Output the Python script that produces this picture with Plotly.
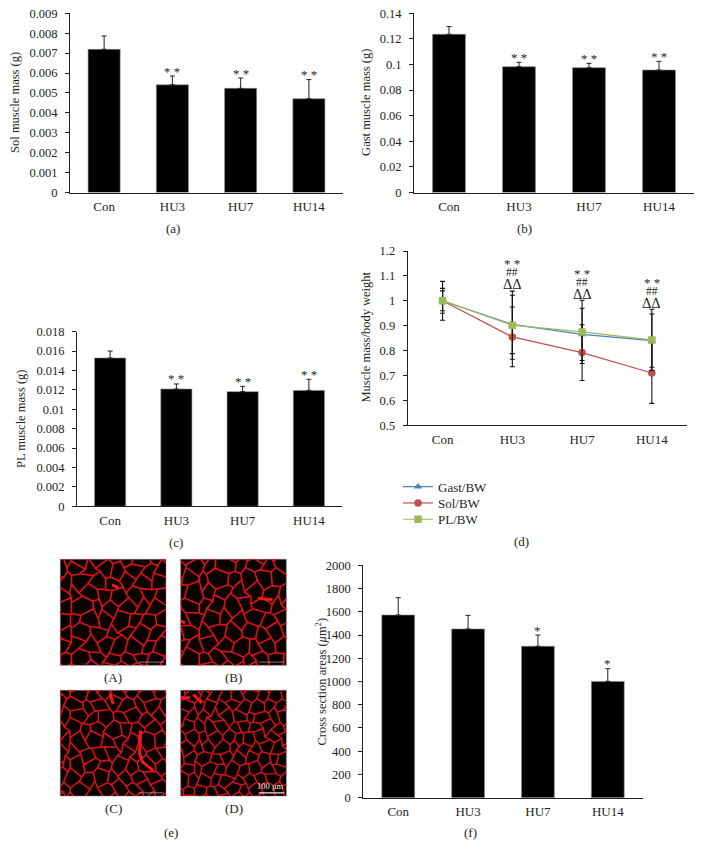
import plotly.graph_objects as go

W, H = 702, 859
FONT = "Liberation Serif"
INK = "#231f20"

categories = ["Con", "HU3", "HU7", "HU14"]

sol_mass = [0.00719, 0.00541, 0.00523, 0.00471]
sol_err = [0.00067, 0.00044, 0.00052, 0.00096]
sol_ticks = [0, 0.001, 0.002, 0.003, 0.004, 0.005, 0.006, 0.007, 0.008, 0.009]
sol_ticklabels = ["0", "0.001", "0.002", "0.003", "0.004", "0.005", "0.006", "0.007", "0.008", "0.009"]

gast_mass = [0.1236, 0.0983, 0.0975, 0.0957]
gast_err = [0.0060, 0.0034, 0.0034, 0.0068]
gast_ticks = [0, 0.02, 0.04, 0.06, 0.08, 0.1, 0.12, 0.14]
gast_ticklabels = ["0", "0.02", "0.04", "0.06", "0.08", "0.1", "0.12", "0.14"]

pl_mass = [0.01529, 0.01209, 0.01182, 0.01195]
pl_err = [0.00072, 0.00052, 0.00055, 0.00114]
pl_ticks = [0, 0.002, 0.004, 0.006, 0.008, 0.01, 0.012, 0.014, 0.016, 0.018]
pl_ticklabels = ["0", "0.002", "0.004", "0.006", "0.008", "0.01", "0.012", "0.014", "0.016", "0.018"]

area = [1572, 1452, 1303, 1001]
area_err = [149, 117, 97, 109]
area_ticks = [0, 200, 400, 600, 800, 1000, 1200, 1400, 1600, 1800, 2000]

gast_bw = [1.0, 0.905, 0.865, 0.84]
gast_bw_err = [0.05, 0.117, 0.105, 0.107]
sol_bw = [1.0, 0.855, 0.792, 0.71]
sol_bw_err = [0.078, 0.12, 0.112, 0.122]
pl_bw = [1.0, 0.902, 0.875, 0.843]
pl_bw_err = [0.04, 0.137, 0.127, 0.123]
ratio_ticks = [0.5, 0.6, 0.7, 0.8, 0.9, 1.0, 1.1, 1.2]
ratio_ticklabels = ["0.5", "0.6", "0.7", "0.8", "0.9", "1", "1.1", "1.2"]

mark_cats = ["HU3", "HU7", "HU14"]
mark_star_y = [1.157, 1.117, 1.082]
mark_hash_y = [1.117, 1.076, 1.039]
mark_delta_y = [1.067, 1.027, 0.990]

# Hand-set vertex offsets for the fibre network in the micrographs
jit_x = [2, -3, 1, 4, -2, -4, 3, 0, -1, 3, -4, 2, 4, -3, 1, -2, 3, -1, -4, 2, 0, 4, -2]
jit_y = [-2, 3, 1, -3, 2, 4, -1, -4, 2, 0, 3, -2, 1, 4, -3, 2, -1, 3, -4, 1, -2, 2, 0, -3, 3]


def X(p):
    return p / W


def Y(p):
    return 1 - p / H


fig = go.Figure()
layout = dict(
    width=W, height=H, margin=dict(l=0, r=0, t=0, b=0), autosize=False,
    paper_bgcolor="white", plot_bgcolor="white", showlegend=True,
    font=dict(family=FONT, size=13, color=INK), bargap=0.53,
)
ann = []


def text(x, y, s, size=13, angle=0):
    ann.append(dict(xref="paper", yref="paper", x=X(x), y=Y(y), text=s, showarrow=False,
                    xanchor="center", yanchor="middle", textangle=angle,
                    font=dict(family=FONT, size=size, color=INK)))


def axes(n, box, yr, ticks, labels=None):
    suffix = "" if n == 1 else str(n)
    layout["xaxis" + suffix] = dict(
        domain=[X(box[0]), X(box[1])], anchor="y" + suffix, type="category", automargin=False,
        categoryorder="array", categoryarray=categories, range=[-0.5, 3.5],
        showgrid=False, showline=True, linecolor=INK, linewidth=1, ticks="", zeroline=False,
        tickfont=dict(family=FONT, size=13, color=INK), ticklabelstandoff=2,
    )
    layout["yaxis" + suffix] = dict(
        domain=[Y(box[3]), Y(box[2])], anchor="x" + suffix, range=yr, automargin=False,
        tickmode="array", tickvals=ticks, ticktext=labels if labels else [str(t) for t in ticks],
        showgrid=False, showline=True, linecolor=INK, linewidth=1, zeroline=False,
        ticks="outside", ticklen=4, tickcolor=INK, tickwidth=1,
        tickfont=dict(family=FONT, size=12.5, color=INK), ticklabelstandoff=5,
    )


def bars(n, values, err, box, yr, ticks, labels, ytitle, tx, caption, stars):
    suffix = "" if n == 1 else str(n)
    axes(n, box, yr, ticks, labels)
    fig.add_trace(go.Bar(
        x=categories, y=values, xaxis="x" + suffix, yaxis="y" + suffix, showlegend=False,
        marker=dict(color="black", line=dict(color="#8a8a8a", width=0.6)),
        error_y=dict(type="data", symmetric=False, array=err, arrayminus=[0, 0, 0, 0],
                     color=INK, thickness=1, width=2.5),
    ))
    text(tx, (box[2] + box[3]) / 2, ytitle, 12.5, -90)
    text(caption[0], caption[1], caption[2], 13)
    for i, c in enumerate(categories):
        if stars[i]:
            ann.append(dict(xref="x" + suffix, yref="y" + suffix, x=c, y=values[i] + err[i],
                            text=stars[i], showarrow=False, yanchor="middle", yshift=5,
                            font=dict(family=FONT, size=13, color=INK)))


s2 = ["", "* *", "* *", "* *"]
bars(1, sol_mass, sol_err, (70, 343, 13.3, 192.5), [0, 0.009], sol_ticks, sol_ticklabels,
     "Sol muscle mass (g)", 15, (173, 228, "(a)"), s2)
bars(2, gast_mass, gast_err, (414, 694, 13.3, 192.5), [0, 0.14], gast_ticks, gast_ticklabels,
     "Gast muscle mass (g)", 366, (524, 228, "(b)"), s2)
bars(3, pl_mass, pl_err, (77, 342, 331.7, 506.3), [0, 0.018], pl_ticks, pl_ticklabels,
     "PL muscle mass (g)", 21, (176, 542, "(c)"), s2)
bars(4, area, area_err, (363.3, 642.7, 565.3, 797.7), [0, 2000], area_ticks, None,
     "Cross section areas (<i>μ</i>m<sup>2</sup>)", 320, (470, 832.7, "(f)"),
     ["", "", "*", "*"])

# Panel (d)
axes(5, (407.7, 686.7, 251, 425.3), [0.5, 1.2], ratio_ticks, ratio_ticklabels)
series = [
    ("Gast/BW", gast_bw, gast_bw_err, "#4f81bd", "triangle-up", "legend", 486.7),
    ("Sol/BW", sol_bw, sol_bw_err, "#c0504d", "circle", "legend2", 503),
    ("PL/BW", pl_bw, pl_bw_err, "#9bbb59", "square", "legend3", 519.3),
]
for name, v, e, col, sym, lg, ly in series:
    fig.add_trace(go.Scatter(
        x=categories, y=v, name=name, xaxis="x5", yaxis="y5", mode="lines+markers", legend=lg,
        line=dict(color=col, width=1.2), marker=dict(color=col, symbol=sym, size=7.5),
        error_y=dict(type="data", array=e, color="#111111", thickness=1.1, width=2.5),
    ))
    layout[lg] = dict(
        x=X(398), y=Y(ly), xanchor="left", yanchor="middle", bgcolor="rgba(0,0,0,0)",
        font=dict(family=FONT, size=13, color=INK), itemwidth=30,
    )
text(365, 337.5, "Muscle mass/body weight", 12.5, -90)
text(521, 541.7, "(d)", 13)
for i, c in enumerate(mark_cats):
    for yy, s, sz, sh in ((mark_star_y[i], "* *", 13, -2), (mark_hash_y[i], "##", 11.5, 0),
                          (mark_delta_y[i], "ΔΔ", 14.5, 0)):
        ann.append(dict(xref="x5", yref="y5", x=c, y=yy, text=s, showarrow=False, yshift=sh,
                        yanchor="middle", font=dict(family=FONT, size=sz, color=INK)))

# Panel (e): micrographs
panels = [
    ("(A)", (60.3, 166, 559.3, 665.3), 14, 12, 0, 1.6),
    ("(B)", (180.7, 286.3, 559.3, 665.3), 14, 12.5, 7, 1.6),
    ("(C)", (60.3, 166, 690.3, 796), 12.5, 11.5, 13, 1.5),
    ("(D)", (180.7, 286.3, 690.3, 796), 11, 10, 4, 1.4),
]
blobs = {
    0: ([49, 55], [76, 73]),
    1: ([73, 87, None, 0, 4], [63, 62, None, 42, 40]),
    2: ([47, 50, None, 76, 75, 78, 88], [97, 87, None, 62, 40, 32, 24]),
    3: ([0, 9, None, 12, 20], [93, 93, None, 96, 88]),
}
for k, (lab, box, cw, rh, seed, lw) in enumerate(panels):
    n = 6 + k
    suf = str(n)
    layout["xaxis" + suf] = dict(domain=[X(box[0]), X(box[1])], anchor="y" + suf, range=[0, 100],
                                 visible=False, fixedrange=True, automargin=False)
    layout["yaxis" + suf] = dict(domain=[Y(box[3]), Y(box[2])], anchor="x" + suf, range=[0, 100],
                                 visible=False, fixedrange=True, automargin=False)
    layout["shapes"] = layout.get("shapes", []) + [dict(
        type="rect", xref="paper", yref="paper", layer="below",
        x0=X(box[0]), x1=X(box[1]), y0=Y(box[3]), y1=Y(box[2]),
        fillcolor="#0a0000", line=dict(color="#777777", width=0.5))]
    ncol = int(200 / cw) + 6
    nrow = int(100 / rh) + 4
    pts = {}
    for r in range(nrow):
        for c in range(ncol):
            jx = jit_x[(c * 7 + r * 11 + c * r * 3 + seed) % len(jit_x)]
            jy = jit_y[(c * 5 + r * 13 + c * r * 2 + seed) % len(jit_y)]
            zig = rh * 0.2 if (c + r) % 2 else -rh * 0.2
            pts[(r, c)] = (c * cw / 2 - cw + jx * cw / 16, r * rh - rh + zig + jy * rh / 16)
    xs, ys = [], []
    for r in range(nrow):
        for c in range(ncol):
            xs.append(pts[(r, c)][0])
            ys.append(pts[(r, c)][1])
        xs.append(None)
        ys.append(None)
        if r < nrow - 1:
            for c in range(ncol):
                if (c + r) % 2 == 1:
                    xs += [pts[(r, c)][0], pts[(r + 1, c)][0], None]
                    ys += [pts[(r, c)][1], pts[(r + 1, c)][1], None]
    fig.add_trace(go.Scatter(x=xs, y=ys, xaxis="x" + suf, yaxis="y" + suf, mode="lines",
                             showlegend=False, hoverinfo="skip",
                             line=dict(color="#dc1218", width=lw)))
    fig.add_trace(go.Scatter(x=blobs[k][0], y=blobs[k][1], xaxis="x" + suf, yaxis="y" + suf,
                             mode="lines", showlegend=False, hoverinfo="skip",
                             line=dict(color="#ee1c1c", width=3)))
    fig.add_trace(go.Scatter(x=[74, 98], y=[3, 3], xaxis="x" + suf, yaxis="y" + suf, mode="lines",
                             showlegend=False, hoverinfo="skip",
                             line=dict(color="#e8e8e8" if k == 3 else "#9a9a9a",
                                       width=1.2 if k == 3 else 0.8)))
    text((box[0] + box[1]) / 2, box[3] + 12.5, lab, 13)
ann.append(dict(xref="x9", yref="y9", x=85, y=9, text="100 μm", showarrow=False,
                font=dict(family=FONT, size=8.5, color="#e8e8e8")))
text(170.7, 832.7, "(e)", 13)

layout["annotations"] = ann
fig.update_layout(**layout)
fig.write_html("out.html", config=dict(displayModeBar=False),
               post_script="document.body.style.margin='0';")
